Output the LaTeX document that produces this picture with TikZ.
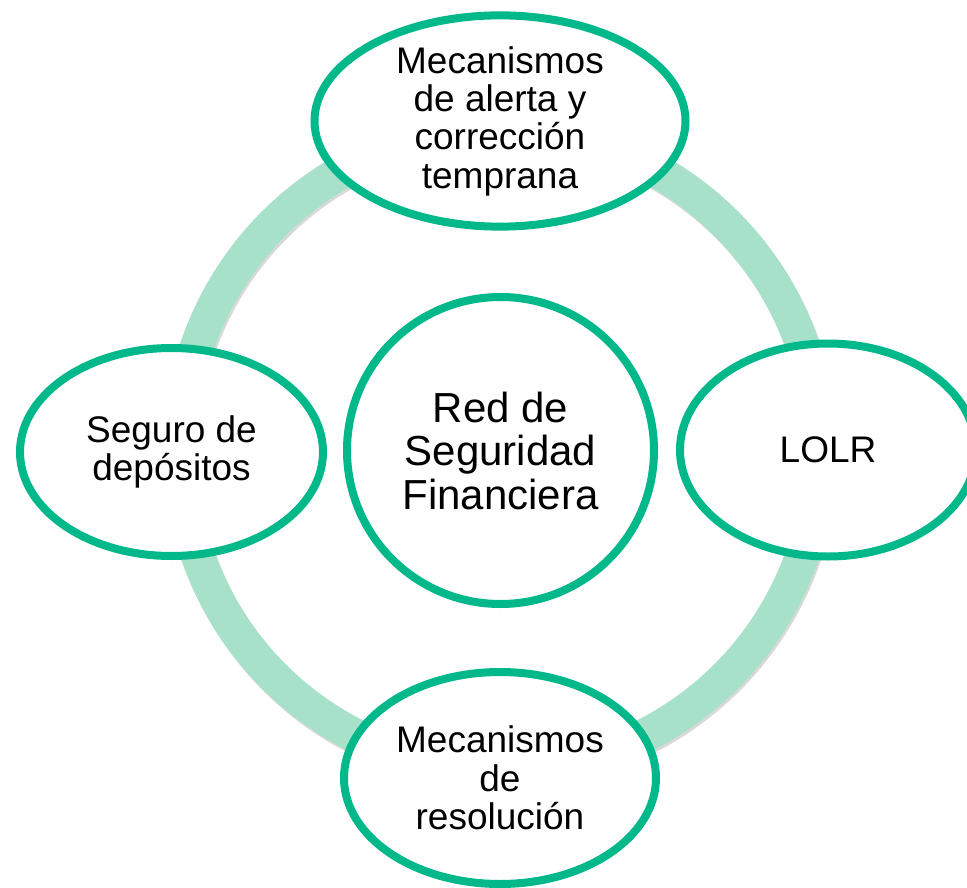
\documentclass[tikz,border=0pt]{standalone}
\usepackage{fontspec}
\setmainfont{Liberation Sans}
\usetikzlibrary{shapes.geometric,shadows}
\definecolor{edgegreen}{RGB}{0,184,138}
\definecolor{ringmint}{RGB}{168,225,202}
\tikzset{
  bubble/.style={ellipse, draw=edgegreen, line width=8pt, fill=white, inner sep=0pt,
    align=center, text=black, font=\fontsize{37}{38.3}\selectfont,
    drop shadow={shadow xshift=1.5pt, shadow yshift=-3pt, opacity=0.18, fill=black}},
  hub/.style={circle, draw=edgegreen, line width=8pt, fill=white, inner sep=0pt,
    align=center, text=black, font=\fontsize{42}{43.5}\selectfont,
    drop shadow={shadow xshift=1.5pt, shadow yshift=-3pt, opacity=0.18, fill=black}},
  ring/.style={draw=ringmint, line width=34pt},
  ringshadow/.style={draw=black, opacity=0.15, line width=34pt}
}
\begin{document}
\begin{tikzpicture}[x=1pt,y=-1pt]
\path[use as bounding box, clip] (0,0) rectangle (967,888);
\fill[white] (0,0) rectangle (967,888);
\coordinate (c) at (500,450);
\draw[ringshadow] ([shift={(1.5,2.5)}]c) circle[radius=320];
\draw[ring] (c) circle[radius=320];
\node[hub, minimum size=307pt] (hub) at (500.5,450.5) {Red de\\Seguridad\\Financiera};
\node[bubble, minimum width=371pt, minimum height=210pt] (top) at (500,121)
  {Mecanismos\\de alerta y\\corrección\\temprana};
\node[bubble, minimum width=303pt, minimum height=208pt] (left) at (171.5,452)
  {Seguro de\\depósitos};
\node[bubble, minimum width=296pt, minimum height=213pt] (right) at (828,450)
  {LOLR};
\node[bubble, minimum width=312pt, minimum height=212pt] (bottom) at (500,778)
  {Mecanismos\\de\\resolución};
\end{tikzpicture}
\end{document}
